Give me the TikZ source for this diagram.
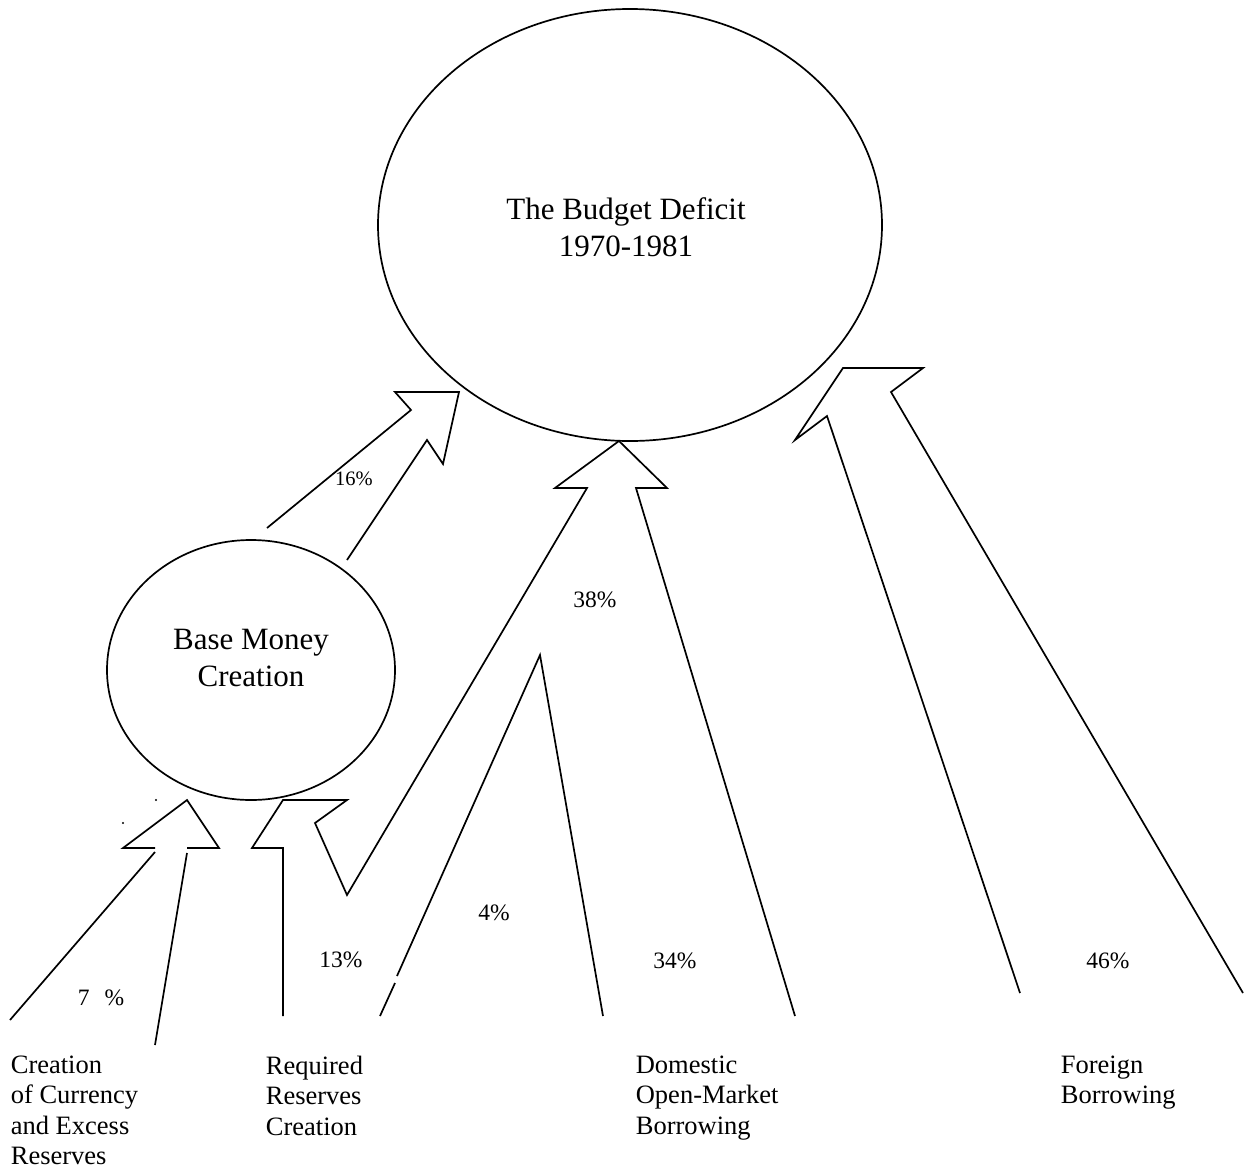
\documentclass[tikz,border=0pt]{standalone}
\usepackage{fontspec}
\setmainfont{Liberation Serif}
\usetikzlibrary{shapes.geometric,positioning}

\begin{document}
\begin{tikzpicture}[x=1pt, y=-1pt, line width=1.7pt,
    oval/.style={draw, ellipse, inner sep=0pt},
    title/.style={font=\fontsize{31}{37}\selectfont, align=center, inner sep=0pt, anchor=north},
    source/.style={font=\fontsize{26.5}{30.5}\selectfont, align=left, inner sep=0pt, anchor=north west},
    pct/.style={font=\fontsize{23.5}{28}\selectfont, inner sep=0pt, anchor=base},
    blockarrow/.style={draw, line join=miter}]
    \useasboundingbox (0,0) rectangle (1248,1173);
    % the two bubbles
    \node[oval, minimum width=504pt, minimum height=432pt] (deficit) at (630,225) {};
    \node[oval, minimum width=288pt, minimum height=260pt] (base) at (251,670) {};
    \node[title] (deficittxt) at (626,197) {The Budget Deficit\\1970-1981};
    \node[title] (basetxt) at (251,628) {Base Money\\Creation};
    % sources
    \node[source] (currency) at (10,1055) {Creation\\of Currency\\and Excess\\Reserves};
    \node[source] (required) at (265,1055) {Required\\Reserves\\Creation};
    \node[source] (domestic) at (635,1055) {Domestic\\Open-Market\\Borrowing};
    \node[source] (foreign) at (1060,1055) {Foreign\\Borrowing};
    % shares
    \node[pct, font=\fontsize{20.5}{24}\selectfont] (p16) at (354,485) {16\%};
    \node[pct] (p38) at (595,607) {38\%};
    \node[pct] (p4) at (494,920) {4\%};
    \node[pct] (p13) at (341,967) {13\%};
    \node[pct] (p34) at (675,968) {34\%};
    \node[pct] (p46) at (1108,968) {46\%};
    \node[pct] (p7) at (101,1005) {7\hspace{15pt}\%};
    % block arrows
    \draw[blockarrow] (267,528) -- (411,410) -- (395,392) -- (459,392) -- (443,464) -- (427,440) -- (347,560);
    \draw[blockarrow] (10,1020) -- (155,852);
    \draw[blockarrow] (155,848) -- (123,848) -- (187,800) -- (219,848) -- (187,848);
    \draw[blockarrow] (187,853) -- (155,1045);
    \draw[blockarrow] (283,1016) -- (283,848) -- (252,848) -- (283,800) -- (347,800) -- (315,823)
        -- (347,895) -- (587,488) -- (555,488) -- (619,441) -- (667,488) -- (636,488) -- (795,1016);
    \draw[blockarrow] (380,1016) -- (395,983);
    \draw[blockarrow] (397,976) -- (540,655) -- (603,1016);
    \draw[blockarrow] (1020,993) -- (827,416) -- (795,440) -- (843,368) -- (923,368) -- (891,392) -- (1243,993);
    \fill (156,800) circle (1.2);
    \fill (123,823) circle (1.2);
\end{tikzpicture}
\end{document}
